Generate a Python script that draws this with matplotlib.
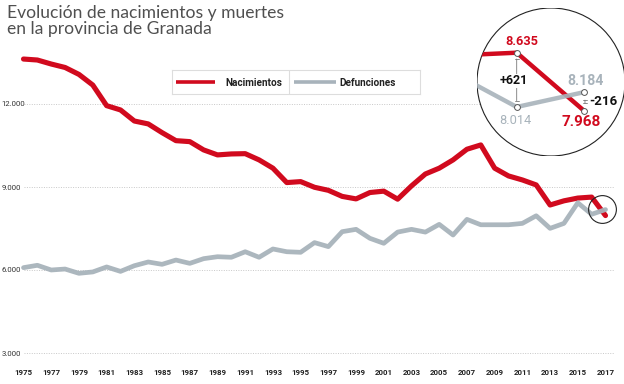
import matplotlib
matplotlib.use("Agg")
import matplotlib.pyplot as plt
from matplotlib.patches import Circle
import numpy as np

years = list(range(1975, 2018))
nacimientos = [13625, 13590, 13445, 13320, 13070, 12685, 11940, 11785, 11385, 11280,
               10965, 10675, 10640, 10340, 10160, 10195, 10205, 9980, 9680, 9160,
               9195, 8990, 8880, 8660, 8570, 8800, 8850, 8560, 9040, 9470,
               9680, 9980, 10365, 10520, 9680, 9400, 9255, 9075, 8350, 8500,
               8600, 8635, 7968]
defunciones = [6085, 6170, 6000, 6035, 5880, 5930, 6110, 5950, 6155, 6290,
               6205, 6360, 6240, 6410, 6480, 6460, 6660, 6460, 6760, 6660,
               6640, 6990, 6845, 7385, 7470, 7145, 6965, 7370, 7470, 7370,
               7650, 7265, 7830, 7635, 7635, 7635, 7685, 7960, 7505, 7685,
               8430, 8014, 8184]
y_ticks = [3000, 6000, 9000, 12000]
y_tick_labels = ["3.000", "6.000", "9.000", "12.000"]
x_ticks = list(range(1975, 2018, 2))
title = "Evolución de nacimientos y muertes\nen la provincia de Granada"
series_names = ["Nacimientos", "Defunciones"]
inset_labels = ["8.635", "+621", "8.014", "8.184", "-216", "7.968"]

RED = "#d10a1e"
GRAY = "#a8b3bb"
W, H = 624, 384
fig = plt.figure(figsize=(W / 100, H / 100), dpi=100)

def px_axes(x0, y0top, x1, y1top):
    return [x0 / W, 1 - y1top / H, (x1 - x0) / W, (y1top - y0top) / H]

fam = ["Roboto", "DejaVu Sans"]

# main axes: 1975 -> x 23.5, 2017 -> x 605.5; 3000 -> y 353, 12000 -> y 104
top_px, bot_px = 40, 353
ax = fig.add_axes(px_axes(23.5, top_px, 605.5, bot_px))
units_per_px = 9000 / (353 - 104)
ax.set_xlim(1975, 2017)
ax.set_ylim(3000, 3000 + (bot_px - top_px) * units_per_px)
for s in ax.spines.values():
    s.set_visible(False)
ax.set_facecolor("none")

for v in y_ticks:
    ax.plot([1975, 2017.6], [v, v], color="#c8c8c8", lw=0.7, ls=(0, (1, 1.5)),
            zorder=1, clip_on=False)

ax.set_yticks(y_ticks)
ax.set_yticklabels(y_tick_labels, fontsize=5.6, color="#333333", family=fam)
ax.tick_params(axis="y", length=0, pad=16)
for t in ax.get_yticklabels():
    t.set_horizontalalignment("left")
ax.set_xticks(x_ticks)
ax.set_xticklabels([str(x) for x in x_ticks], fontsize=5.7, color="#222222",
                   fontweight="bold", family=fam)
ax.tick_params(axis="x", length=0, pad=11.5)

ax.plot(years, nacimientos, color=RED, lw=3.7, solid_joinstyle="round",
        solid_capstyle="round", zorder=3, clip_on=False)
ax.plot(years, defunciones, color=GRAY, lw=3.4, solid_joinstyle="round",
        solid_capstyle="round", zorder=4, clip_on=False, alpha=0.95)

# small circle around the last points
cx = years[-1] - 0.25
cy = (nacimientos[-2] + defunciones[-1]) / 2 - 200
ax.plot([cx], [cy], marker="o", ms=20, mfc="none", mec="#222222", mew=0.8,
        zorder=5, clip_on=False)

# title
fig.text(7 / W, 1 - 5 / H, title, ha="left", va="top", fontsize=12.6,
         color="#505050", family=["Lato", "DejaVu Sans"], fontweight="normal",
         linespacing=1.0)

# legend box
lax = fig.add_axes(px_axes(172, 70, 420, 94))
lax.set_xlim(172, 420)
lax.set_ylim(94, 70)
lax.set_xticks([]); lax.set_yticks([])
for s in lax.spines.values():
    s.set_color("#dddddd"); s.set_linewidth(0.8)
lax.axvline(289, color="#dddddd", lw=0.8)
lax.plot([176, 215], [82, 82], color=RED, lw=2.6, solid_capstyle="butt")
lax.text(225, 82.5, series_names[0], ha="left", va="center", fontsize=7.2,
         fontweight="bold", color="#222222", family=fam)
lax.plot([294, 336], [82, 82], color=GRAY, lw=2.6, solid_capstyle="butt")
lax.text(339, 82.5, series_names[1], ha="left", va="center", fontsize=7.2,
         fontweight="bold", color="#222222", family=fam)

# inset zoom circle: centre (551, 82), r 74
ix0, iy0, ix1, iy1 = 477, 8, 625, 156
iax = fig.add_axes(px_axes(ix0, iy0, ix1, iy1))
iax.set_facecolor("none")
for s in iax.spines.values():
    s.set_visible(False)
iax.set_xticks([]); iax.set_yticks([])
px_per_year = 67.6
px_per_unit = 0.0874
x16 = 516.7
y8635 = 52.7
iax.set_xlim(2016 - (x16 - ix0) / px_per_year, 2016 + (ix1 - x16) / px_per_year)
iax.set_ylim(8635 - (iy1 - y8635) / px_per_unit, 8635 + (y8635 - iy0) / px_per_unit)
circ = Circle((0.5, 0.5), 0.5, transform=iax.transAxes, facecolor="white",
              edgecolor="#222222", lw=0.8, zorder=0)
iax.add_patch(circ)
lr, = iax.plot(years, nacimientos, color=RED, lw=3.2, zorder=2)
lg, = iax.plot(years, defunciones, color=GRAY, lw=3.2, zorder=3, alpha=0.9)
lr.set_clip_path(circ); lg.set_clip_path(circ)
iax.plot(years[-2:], nacimientos[-2:], ls="none", marker="o", ms=4.2, mfc="white",
         mec="#555555", mew=0.7, zorder=5)
iax.plot(years[-2:], defunciones[-2:], ls="none", marker="o", ms=4.2, mfc="white",
         mec="#555555", mew=0.7, zorder=5)

# dimension lines
iax.annotate("", xy=(years[-2], defunciones[-2] + 40), xytext=(years[-2], nacimientos[-2] - 40),
             arrowprops=dict(arrowstyle="|-|,widthA=0.15,widthB=0.15", color="#777777", lw=0.6),
             zorder=4)
iax.annotate("", xy=(years[-1] + 0.01, nacimientos[-1] + 60), xytext=(years[-1] + 0.01, defunciones[-1] - 60),
             arrowprops=dict(arrowstyle="|-|,widthA=0.15,widthB=0.15", color="#777777", lw=0.6),
             zorder=4)

def lab(text, xy, off, color, size, weight="bold", bg=False):
    kw = dict(textcoords="offset pixels", ha="center", va="center", fontsize=size,
              color=color, fontweight=weight, family=fam, zorder=6)
    if bg:
        kw["bbox"] = dict(facecolor="white", edgecolor="none", pad=0.5)
    iax.annotate(text, xy=xy, xytext=off, **kw)

lab(inset_labels[0], (years[-2], nacimientos[-2]), (5.3, 11), RED, 9.2)
lab(inset_labels[1], (years[-2], nacimientos[-2]), (-3, -28.3), "#111111", 9.0, bg=True)
lab(inset_labels[2], (years[-2], defunciones[-2]), (-1.2, -13.3), GRAY, 9.2, weight="normal")
lab(inset_labels[3], (years[-1], defunciones[-1]), (1.7, 11.3), GRAY, 10.2)
lab(inset_labels[4], (years[-1], defunciones[-1]), (19.5, -9.4), "#111111", 9.6)
lab(inset_labels[5], (years[-1], nacimientos[-1]), (-3.3, -10.7), RED, 11.0)

fig.savefig("out.png", dpi=100)
